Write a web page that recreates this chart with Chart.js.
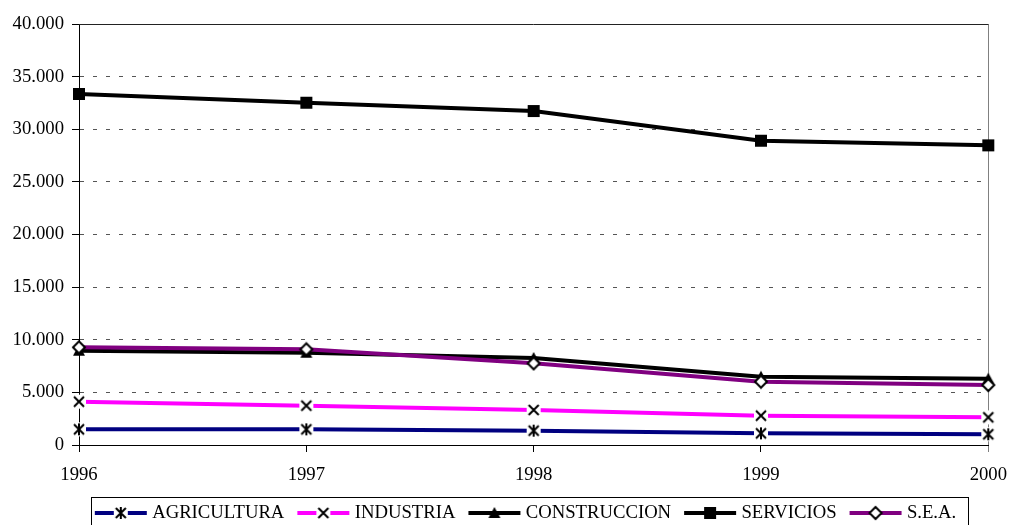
<!DOCTYPE html>
<html>
<head>
<meta charset="utf-8">
<script src="https://cdn.jsdelivr.net/npm/chart.js@4"></script>
<style>
  html, body { margin: 0; padding: 0; background: #fff; }
  #wrap { width: 1019px; height: 525px; position: relative; }
</style>
</head>
<body>
<div id="wrap"><canvas id="chart"></canvas></div>
<script>
const years = ['1996', '1997', '1998', '1999', '2000'];
const agricultura = [1490, 1490, 1360, 1110, 1020];
const industria = [4120, 3740, 3330, 2790, 2630];
const construccion = [8960, 8770, 8270, 6490, 6300];
const servicios = [33350, 32520, 31730, 28910, 28470];
const sea = [9280, 9090, 7760, 6020, 5700];
const yTicks = [0, 5000, 10000, 15000, 20000, 25000, 30000, 35000, 40000];

const FONT = "'Liberation Serif', 'Times New Roman', serif";
const FSIZE = 18.7;
Chart.defaults.font.family = FONT;
Chart.defaults.font.size = FSIZE;
Chart.defaults.color = '#000';

// marker drawn on its own small canvas, optionally with a line behind (for legend)
function marker(kind, w, h, lineColor) {
  const c = document.createElement('canvas');
  c.width = w; c.height = h;
  const g = c.getContext('2d');
  const cx = w / 2, cy = h / 2;
  if (lineColor) {
    g.strokeStyle = lineColor;
    g.lineWidth = 4;
    g.beginPath(); g.moveTo(1, cy); g.lineTo(w - 1, cy); g.stroke();
  }
  g.strokeStyle = '#000';
  g.fillStyle = '#000';
  g.lineWidth = 2;
  const r = 6;
  if (kind === 'star' || kind === 'x') {
    g.fillStyle = '#fff';
    g.fillRect(cx - r - 1, cy - r - 1, 2 * r + 2, 2 * r + 2);
    g.beginPath();
    g.moveTo(cx - r + 1, cy - r + 1); g.lineTo(cx + r - 1, cy + r - 1);
    g.moveTo(cx + r - 1, cy - r + 1); g.lineTo(cx - r + 1, cy + r - 1);
    if (kind === 'star') { g.moveTo(cx, cy - r); g.lineTo(cx, cy + r); }
    g.stroke();
  } else if (kind === 'tri') {
    g.beginPath();
    g.moveTo(cx, cy - r); g.lineTo(cx + r, cy + r - 1); g.lineTo(cx - r, cy + r - 1);
    g.closePath(); g.fill();
  } else if (kind === 'sq') {
    g.fillRect(cx - r, cy - r, 2 * r, 2 * r);
  } else if (kind === 'dia') {
    g.fillStyle = '#fff';
    g.beginPath();
    g.moveTo(cx, cy - r); g.lineTo(cx + r, cy); g.lineTo(cx, cy + r); g.lineTo(cx - r, cy);
    g.closePath(); g.fill(); g.stroke();
  }
  return c;
}

const series = [
  { label: 'AGRICULTURA', data: agricultura, color: '#000080', mk: 'star' },
  { label: 'INDUSTRIA', data: industria, color: '#FF00FF', mk: 'x' },
  { label: 'CONSTRUCCION', data: construccion, color: '#000000', mk: 'tri' },
  { label: 'SERVICIOS', data: servicios, color: '#000000', mk: 'sq' },
  { label: 'S.E.A.', data: sea, color: '#800080', mk: 'dia' }
];

const datasets = series.map((s, i) => ({
  label: s.label,
  data: s.data,
  borderColor: s.color,
  backgroundColor: s.color,
  borderWidth: 4,
  tension: 0,
  pointStyle: marker(s.mk, 16, 16),
  pointRadius: 6,
  legendImg: marker(s.mk, 54, 16, s.color),
  order: series.length - i
}));

const fmt = v => String(v).replace(/\B(?=(\d{3})+(?!\d))/g, '.');

// plot frame: solid top line
const framePlugin = {
  id: 'frame',
  afterLayout(chart) {
    // legend row sits a bit right of the canvas centre
    chart.legend.left += 28;
    chart.legend.right += 28;
  },
  beforeDatasetsDraw(chart) {
    const { ctx, chartArea: a } = chart;
    ctx.save();
    ctx.strokeStyle = '#222';
    ctx.lineWidth = 1;
    ctx.beginPath();
    ctx.moveTo(a.left, Math.round(a.top) + 0.5);
    ctx.lineTo(a.right, Math.round(a.top) + 0.5);
    ctx.stroke();
    ctx.restore();
  }
};

// border around legend
const legendBox = {
  id: 'legendBox',
  afterDraw(chart) {
    const hb = chart.legend.legendHitBoxes;
    if (!hb || !hb.length) return;
    const ctx = chart.ctx;
    const first = hb[0], last = hb[hb.length - 1];
    const x1 = Math.round(first.left - 8) + 0.5;
    const x2 = Math.round(last.left + last.width + 12) + 0.5;
    const y1 = Math.round(first.top + first.height / 2 - 16) + 0.5;
    ctx.save();
    ctx.strokeStyle = '#000';
    ctx.lineWidth = 1;
    ctx.strokeRect(x1, y1, x2 - x1, 34);
    ctx.restore();
  }
};

new Chart(document.getElementById('chart'), {
  type: 'line',
  data: { labels: years, datasets },
  plugins: [framePlugin, legendBox],
  options: {
    responsive: true,
    maintainAspectRatio: false,
    animation: false,
    layout: { padding: { top: 24, left: 0, right: 20, bottom: -7.35 } },
    plugins: {
      tooltip: { enabled: false },
      legend: {
        position: 'bottom',
        labels: {
          usePointStyle: true,
          pointStyleWidth: 44,
          padding: 17,
          color: '#000',
          font: { family: FONT, size: FSIZE },
          generateLabels: chart => chart.data.datasets.map((d, i) => ({
            text: d.label,
            pointStyle: d.legendImg,
            fillStyle: d.borderColor,
            strokeStyle: d.borderColor,
            fontColor: '#000',
            lineWidth: 0,
            hidden: false,
            datasetIndex: i
          }))
        }
      }
    },
    scales: {
      x: {
        type: 'category',
        offset: false,
        afterFit: s => { s.height = 41.65; },
        grid: {
          display: true,
          drawOnChartArea: true,
          color: c => c.index === years.length - 1 ? '#808080' : 'rgba(0,0,0,0)',
          tickColor: c => c.index === years.length - 1 ? '#808080' : '#000',
          tickLength: 7,
          lineWidth: 1
        },
        border: { display: true, color: '#000', width: 1 },
        ticks: {
          color: '#000',
          padding: 12,
          maxRotation: 0,
          autoSkip: false,
          font: { family: FONT, size: FSIZE }
        }
      },
      y: {
        min: 0,
        max: 40000,
        afterFit: s => { s.width = 79; },
        afterBuildTicks: s => { s.ticks = yTicks.map(v => ({ value: v })); },
        grid: {
          color: '#555',
          lineWidth: 1,
          tickLength: 7,
          tickColor: '#000',
          tickBorderDash: []
        },
        border: { display: true, color: '#000', width: 1, dash: [4, 9] },
        ticks: {
          color: '#000',
          padding: 8,
          font: { family: FONT, size: FSIZE },
          callback: v => fmt(v)
        }
      }
    }
  }
});
</script>
</body>
</html>
